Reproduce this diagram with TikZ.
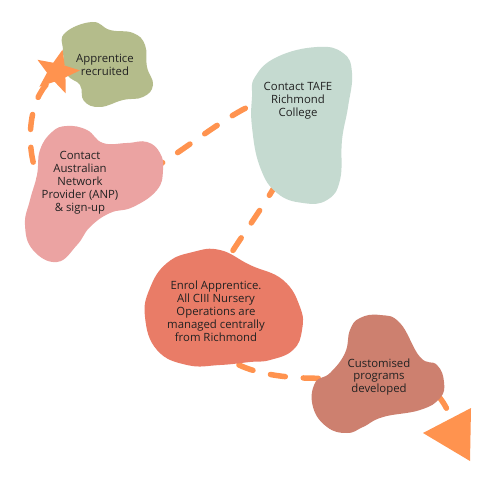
\documentclass[tikz,border=0pt]{standalone}
\usepackage{fontspec}
\setmainfont{Open Sans}
\usetikzlibrary{shapes.geometric}
\definecolor{route}  {HTML}{FF934F}
\definecolor{sage}   {HTML}{B4BC8B}
\definecolor{blush}  {HTML}{EBA3A2}
\definecolor{mint}   {HTML}{C5DAD0}
\definecolor{coral}  {HTML}{E97C67}
\definecolor{clay}   {HTML}{CD806F}
\definecolor{ink}    {HTML}{222222}
\newcommand{\blobfont}{\fontsize{11.4}{13}\selectfont}
\pgfdeclarelayer{bg}
\pgfsetlayers{bg,main}

\begin{document}
\begin{tikzpicture}[x=1bp, y=-1bp, font=\blobfont,
    lbl/.style={align=center, text=ink, inner sep=1bp},
    trail/.style={draw=route, line width=5.5bp, line cap=round,
                  dash pattern=on 15bp off 18bp}]
  \useasboundingbox (0,0) rectangle (500,500);
  % blobs
  \fill[sage] plot[smooth cycle, tension=.75] coordinates {
    (65,33) (92,22) (110,30) (133,33) (145,45) (147,67) (153,85)
    (143,97) (123,100) (100,107) (84,101) (80,85) (67,74) (63,50)};
  \fill[blush] plot[smooth cycle, tension=.75] coordinates {
    (40,150) (52,132) (67,126) (87,130) (103,143) (127,143) (147,142)
    (160,153) (163,170) (157,190) (133,207) (110,213) (90,227)
    (77,245) (57,262) (33,250) (25,225) (30,200) (37,175)};
  \fill[mint] plot[smooth cycle, tension=.75] coordinates {
    (255,77) (277,57) (317,47) (343,53) (352,73) (348,107) (342,140)
    (340,180) (327,200) (303,203) (277,193) (260,167) (252,127) (252,97)};
  \fill[coral] plot[smooth cycle, tension=.75] coordinates {
    (150,288) (167,263) (193,252) (220,250) (250,265) (283,280)
    (300,307) (302,330) (293,350) (270,360) (250,362) (220,365)
    (187,365) (157,350) (145,317)};
  \fill[clay] plot[smooth cycle, tension=.75] coordinates {
    (350,330) (360,318) (380,315) (400,323) (420,357) (437,365)
    (444,382) (440,398) (420,410) (383,417) (363,427) (347,433)
    (327,427) (313,407) (315,383) (330,373) (345,353)};
  % labels
  \foreach \n/\x/\y/\txt in {
     recruit/105/65/{Apprentice\\recruited},
     anp/80/183/{Contact\\Australian\\Network\\Provider (ANP)\\\& sign-up},
     tafe/298/101/{Contact TAFE\\Richmond\\College},
     enrol/216/311/{Enrol Apprentice.\\All CIII Nursery\\Operations are\\managed centrally\\from Richmond},
     custom/379/377/{Customised\\programs\\developed}} {
    \node[lbl] (\n) at (\x,\y) {\txt};
  }
  % start and finish marks
  \node[star, star points=5, star point ratio=2.3, minimum size=46bp,
        inner sep=0pt, fill=route, rotate=-14] (star) at (57,72) {};
  \coordinate (tip) at (450,418);
  \fill[route] (423,433) -- (471,408) -- (470,461) -- cycle;
  % dashed route behind everything
  \begin{pgfonlayer}{bg}
    \fill[white] (0,0) rectangle (500,500);
    \draw[trail] (star) .. controls +(-30,35) and +(-15,-30) .. (anp.west);
    \draw[trail] (anp.east) .. controls +(35,-5) and +(-40,12) .. (tafe.west);
    \draw[trail] (tafe.south) .. controls +(0,50) and +(25,-50) .. (enrol.north);
    \draw[trail] (enrol.south) .. controls +(10,30) and +(-60,5) .. (custom.west);
    \draw[trail] (custom.east) .. controls +(18,5) and +(-3,-15) .. (tip);
  \end{pgfonlayer}
\end{tikzpicture}
\end{document}
